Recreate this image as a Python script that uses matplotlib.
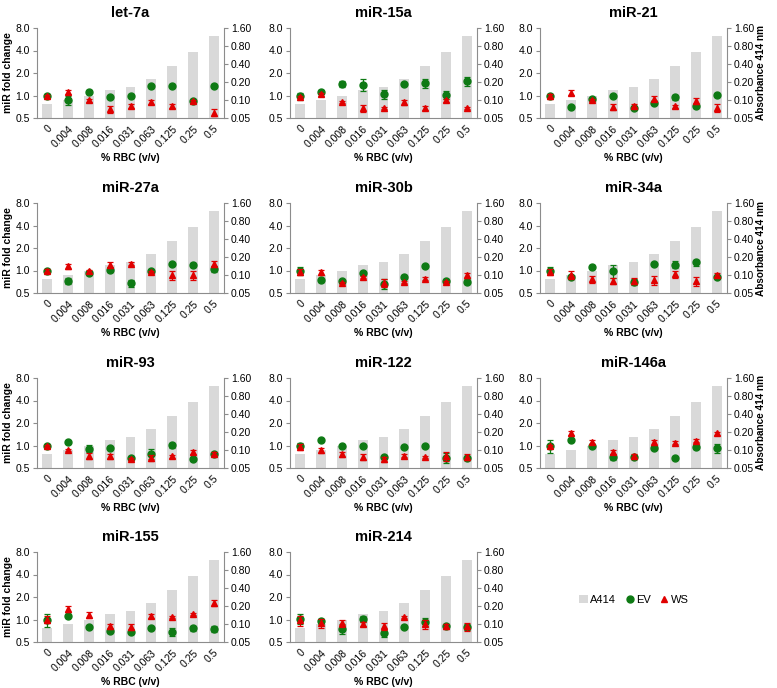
import numpy as np
import matplotlib
matplotlib.use("Agg")
import matplotlib.pyplot as plt
from matplotlib.ticker import FixedLocator, FixedFormatter, NullLocator
from matplotlib.lines import Line2D
from matplotlib.patches import Patch

plt.rcParams['font.family'] = ['Liberation Sans', 'DejaVu Sans']

# x categories (% RBC, v/v)
rbc_labels = ["0", "0.004", "0.008", "0.016", "0.031", "0.063", "0.125", "0.25", "0.5"]

# absorbance at 414 nm (same haemolysis series in every panel)
a414 = [0.087, 0.100, 0.115, 0.145, 0.163, 0.228, 0.370, 0.645, 1.190]

mirnas = ["let-7a", "miR-15a", "miR-21",
          "miR-27a", "miR-30b", "miR-34a",
          "miR-93", "miR-122", "miR-146a",
          "miR-155", "miR-214"]

# EV fold change / error
ev_let7a = [1.00, 0.87, 1.11, 0.96, 1.00, 1.33, 1.35, 0.84, 1.36]
ev_let7a_err = [0.04, 0.13, 0.07, 0.03, 0.03, 0.06, 0.06, 0.03, 0.08]
ev_mir15a = [0.98, 1.13, 1.43, 1.40, 1.05, 1.42, 1.47, 1.03, 1.55]
ev_mir15a_err = [0.10, 0.04, 0.15, 0.25, 0.15, 0.05, 0.20, 0.12, 0.20]
ev_mir21 = [0.98, 0.71, 0.91, 1.00, 0.68, 0.80, 0.95, 0.72, 1.03]
ev_mir21_err = [0.04, 0.02, 0.03, 0.03, 0.03, 0.03, 0.08, 0.03, 0.03]
ev_mir27a = [1.00, 0.73, 0.92, 1.03, 0.68, 0.98, 1.23, 1.18, 1.05]
ev_mir27a_err = [0.03, 0.07, 0.04, 0.07, 0.07, 0.03, 0.04, 0.08, 0.09]
ev_mir30b = [1.00, 0.75, 0.72, 0.92, 0.66, 0.83, 1.14, 0.73, 0.71]
ev_mir30b_err = [0.12, 0.05, 0.03, 0.04, 0.10, 0.03, 0.04, 0.03, 0.06]
ev_mir34a = [1.00, 0.81, 1.12, 1.00, 0.70, 1.21, 1.20, 1.28, 0.82]
ev_mir34a_err = [0.10, 0.04, 0.07, 0.20, 0.06, 0.04, 0.12, 0.12, 0.03]
ev_mir93 = [1.00, 1.12, 0.91, 0.93, 0.67, 0.78, 1.01, 0.65, 0.76]
ev_mir93_err = [0.03, 0.03, 0.10, 0.03, 0.03, 0.12, 0.07, 0.02, 0.03]
ev_mir122 = [1.00, 1.18, 1.00, 0.98, 0.70, 0.96, 0.98, 0.69, 0.67]
ev_mir122_err = [0.08, 0.03, 0.03, 0.03, 0.03, 0.03, 0.03, 0.10, 0.03]
ev_mir146a = [1.00, 1.20, 0.98, 0.70, 0.70, 0.94, 0.67, 0.95, 0.92]
ev_mir146a_err = [0.20, 0.04, 0.03, 0.06, 0.04, 0.04, 0.02, 0.04, 0.12]
ev_mir155 = [1.00, 1.13, 0.79, 0.71, 0.68, 0.77, 0.68, 0.77, 0.75]
ev_mir155_err = [0.20, 0.04, 0.03, 0.03, 0.03, 0.03, 0.08, 0.06, 0.08]
ev_mir214 = [1.02, 0.95, 0.75, 1.02, 0.66, 0.80, 0.93, 0.81, 0.79]
ev_mir214_err = [0.15, 0.07, 0.12, 0.10, 0.07, 0.04, 0.12, 0.04, 0.07]

# WS fold change / error
ws_let7a = [0.98, 1.11, 0.87, 0.66, 0.73, 0.82, 0.73, 0.84, 0.59]
ws_let7a_err = [0.05, 0.06, 0.04, 0.07, 0.04, 0.04, 0.04, 0.03, 0.06]
ws_mir15a = [0.96, 1.04, 0.82, 0.68, 0.68, 0.81, 0.68, 0.87, 0.68]
ws_mir15a_err = [0.04, 0.04, 0.03, 0.07, 0.03, 0.06, 0.04, 0.04, 0.03]
ws_mir21 = [0.98, 1.09, 0.87, 0.70, 0.73, 0.91, 0.72, 0.84, 0.68]
ws_mir21_err = [0.07, 0.08, 0.03, 0.07, 0.03, 0.07, 0.03, 0.08, 0.08]
ws_mir27a = [1.00, 1.14, 0.98, 1.18, 1.23, 0.96, 0.86, 0.86, 1.23]
ws_mir27a_err = [0.04, 0.10, 0.05, 0.10, 0.06, 0.03, 0.12, 0.12, 0.10]
ws_mir30b = [0.96, 0.95, 0.68, 0.82, 0.68, 0.70, 0.78, 0.70, 0.86]
ws_mir30b_err = [0.10, 0.07, 0.03, 0.03, 0.08, 0.03, 0.04, 0.03, 0.06]
ws_mir34a = [0.96, 0.87, 0.77, 0.72, 0.72, 0.74, 0.90, 0.72, 0.87]
ws_mir34a_err = [0.10, 0.10, 0.08, 0.07, 0.07, 0.10, 0.10, 0.10, 0.05]
ws_mir93 = [0.98, 0.87, 0.73, 0.72, 0.66, 0.68, 0.72, 0.82, 0.78]
ws_mir93_err = [0.03, 0.03, 0.07, 0.06, 0.03, 0.06, 0.03, 0.06, 0.03]
ws_mir122 = [0.96, 0.87, 0.76, 0.70, 0.66, 0.73, 0.70, 0.72, 0.70]
ws_mir122_err = [0.08, 0.07, 0.06, 0.06, 0.05, 0.03, 0.03, 0.10, 0.06]
ws_mir146a = [0.98, 1.48, 1.12, 0.83, 0.73, 1.11, 1.09, 1.16, 1.45]
ws_mir146a_err = [0.04, 0.10, 0.07, 0.05, 0.03, 0.08, 0.05, 0.06, 0.06]
ws_mir155 = [1.00, 1.39, 1.15, 0.81, 0.80, 1.11, 1.09, 1.18, 1.67]
ws_mir155_err = [0.10, 0.12, 0.10, 0.06, 0.07, 0.06, 0.03, 0.04, 0.15]
ws_mir214 = [0.97, 0.90, 0.90, 0.88, 0.81, 1.08, 0.86, 0.81, 0.81]
ws_mir214_err = [0.15, 0.12, 0.10, 0.06, 0.08, 0.04, 0.12, 0.06, 0.10]

ev_data = [ev_let7a, ev_mir15a, ev_mir21, ev_mir27a, ev_mir30b, ev_mir34a,
           ev_mir93, ev_mir122, ev_mir146a, ev_mir155, ev_mir214]
ev_errs = [ev_let7a_err, ev_mir15a_err, ev_mir21_err, ev_mir27a_err, ev_mir30b_err,
           ev_mir34a_err, ev_mir93_err, ev_mir122_err, ev_mir146a_err, ev_mir155_err,
           ev_mir214_err]
ws_data = [ws_let7a, ws_mir15a, ws_mir21, ws_mir27a, ws_mir30b, ws_mir34a,
           ws_mir93, ws_mir122, ws_mir146a, ws_mir155, ws_mir214]
ws_errs = [ws_let7a_err, ws_mir15a_err, ws_mir21_err, ws_mir27a_err, ws_mir30b_err,
           ws_mir34a_err, ws_mir93_err, ws_mir122_err, ws_mir146a_err, ws_mir155_err,
           ws_mir214_err]

left_ticks = [0.5, 1, 2, 4, 8]
left_ticklabels = ["0.5", "1.0", "2.0", "4.0", "8.0"]
right_ticks = [0.05, 0.1, 0.2, 0.4, 0.8, 1.6]
right_ticklabels = ["0.05", "0.10", "0.20", "0.40", "0.80", "1.60"]

BAR_COLOR = "#d9d9d9"
EV_COLOR = "#0e7a14"
WS_COLOR = "#e00000"
SPINE_COLOR = "#8c8c8c"

W, H = 777, 688
col_left = [37, 290, 540]
row_bottom = [118, 293, 468, 642]
ax_w, ax_h = 187, 90


def style_axis(ax):
    ax.spines["top"].set_visible(False)
    for s in ["left", "right", "bottom"]:
        ax.spines[s].set_color(SPINE_COLOR)
        ax.spines[s].set_linewidth(0.8)
    ax.tick_params(axis="y", length=3, width=0.8, color=SPINE_COLOR,
                   labelsize=7.5, pad=2)


def draw_panel(fig, idx):
    r, c = divmod(idx, 3)
    rect = [col_left[c] / W, 1 - row_bottom[r] / H, ax_w / W, ax_h / H]
    ax_bar = fig.add_axes(rect)
    ax = ax_bar.twinx()
    x = np.arange(len(rbc_labels))

    # A414 bars (right axis)
    ax_bar.bar(x, a414, width=0.48, color=BAR_COLOR, zorder=1)
    ax_bar.set_yscale("log", base=2)
    ax_bar.set_ylim(0.05, 1.6)
    ax_bar.yaxis.tick_right()
    ax_bar.yaxis.set_label_position("right")
    ax_bar.yaxis.set_major_locator(FixedLocator(right_ticks))
    ax_bar.yaxis.set_major_formatter(FixedFormatter(right_ticklabels))
    ax_bar.yaxis.set_minor_locator(NullLocator())
    ax_bar.set_xlim(-0.5, len(rbc_labels) - 0.5)

    # fold change points (left axis) drawn on top of the bars
    ax.yaxis.tick_left()
    ax.yaxis.set_label_position("left")
    ax.set_zorder(ax_bar.get_zorder() + 1)
    ax.patch.set_visible(False)
    ax.errorbar(x, ev_data[idx], yerr=ev_errs[idx], fmt="o", color=EV_COLOR,
                ms=5, elinewidth=0.9, capsize=2, capthick=0.9, zorder=3)
    ax.errorbar(x, ws_data[idx], yerr=ws_errs[idx], fmt="^", color=WS_COLOR,
                ms=4.8, elinewidth=0.9, capsize=2, capthick=0.9, zorder=4)
    ax.set_yscale("log", base=2)
    ax.set_ylim(0.5, 8)
    ax.yaxis.set_major_locator(FixedLocator(left_ticks))
    ax.yaxis.set_major_formatter(FixedFormatter(left_ticklabels))
    ax.yaxis.set_minor_locator(NullLocator())

    for a in (ax, ax_bar):
        style_axis(a)
    ax.spines["right"].set_visible(False)
    ax.spines["bottom"].set_visible(False)
    ax_bar.spines["left"].set_visible(False)

    ax_bar.set_xticks(x)
    ax_bar.set_xticklabels(rbc_labels, rotation=45, ha="right",
                           rotation_mode="anchor", fontsize=7.5)
    ax_bar.tick_params(axis="x", length=0, pad=4)

    ax.set_title(mirnas[idx], fontsize=10.5, fontweight="bold", pad=8)
    ax_bar.set_xlabel("% RBC (v/v)", fontsize=7.5, fontweight="bold", labelpad=3)
    if c == 0:
        ax.set_ylabel("miR fold change", fontsize=7.5, fontweight="bold", labelpad=2)
    if c == 2:
        ax_bar.set_ylabel("Absorbance 414 nm", fontsize=7.2,
                          fontweight="bold", labelpad=1)


def main():
    fig = plt.figure(figsize=(W / 100, H / 100), dpi=100)
    for i in range(len(mirnas)):
        draw_panel(fig, i)

    handles = [
        Patch(facecolor=BAR_COLOR, edgecolor="none"),
        Line2D([], [], marker="o", color=EV_COLOR, ls="none", ms=5),
        Line2D([], [], marker="^", color=WS_COLOR, ls="none", ms=5),
    ]
    fig.legend(handles, ["A414", "EV", "WS"], loc="center", ncol=3,
               bbox_to_anchor=(634 / W, 1 - 600 / H), frameon=False,
               fontsize=8, handlelength=0.8, handletextpad=0.2,
               columnspacing=0.8)

    fig.savefig("out.png", dpi=100)


if __name__ == "__main__":
    main()
